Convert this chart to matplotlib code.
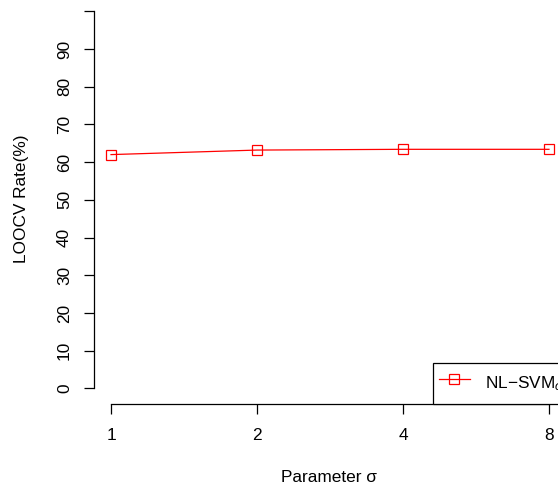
import matplotlib
matplotlib.use("Agg")
import matplotlib.pyplot as plt

# data
sigma_labels = ["1", "2", "4", "8"]
loocv_rate = [62.0, 63.2, 63.4, 63.4]
y_ticks = [0, 10, 20, 30, 40, 50, 60, 70, 80, 90, 100]
y_tick_labels = ["0", "10", "20", "30", "40", "50", "60", "70", "80", "90", ""]
series_name = "NL\u2212SVM$_\\sigma$"

plt.rcParams['font.family'] = ['Liberation Sans', 'DejaVu Sans']
plt.rcParams['mathtext.fontset'] = 'custom'
plt.rcParams['mathtext.rm'] = 'Liberation Sans'
plt.rcParams['mathtext.it'] = 'Liberation Sans:italic'
FS = 12.4

W, H = 558, 488
fig = plt.figure(figsize=(W / 100, H / 100), dpi=100)

# plot region in pixels (R style, runs a bit past the right/top edge)
left, right, bottom, top = 93.5, 566.5, 403.5, -3.8
ax = fig.add_axes([left / W, 1 - bottom / H, (right - left) / W, (bottom - top) / H])

xpos = list(range(1, len(sigma_labels) + 1))
ax.plot(xpos, loocv_rate, color='red', linewidth=0.9, marker='s',
        markersize=7, markerfacecolor='none', markeredgecolor='red',
        markeredgewidth=0.9, label=series_name)

ax.set_xlim(0.88, 4.12)
ax.set_ylim(-4, 104)

for s in ['top', 'right']:
    ax.spines[s].set_visible(False)
ax.spines['left'].set_bounds(0, 100)
ax.spines['bottom'].set_bounds(1, 4)
for s in ['left', 'bottom']:
    ax.spines[s].set_linewidth(0.9)

ax.set_xticks(xpos)
ax.set_xticklabels(sigma_labels, fontsize=FS)
ax.set_yticks(y_ticks)
ax.set_yticklabels(y_tick_labels, fontsize=FS, rotation=90, va='center')
ax.tick_params(axis='both', direction='out', length=7, width=0.9)
ax.tick_params(axis='x', pad=11)
ax.tick_params(axis='y', pad=8.5)

ax.set_xlabel("Parameter \u03c3", fontsize=FS)
ax.set_ylabel("LOOCV Rate(%)", fontsize=FS)
ax.xaxis.set_label_coords(329 / W, 1 - 477 / H, transform=fig.transFigure)
ax.yaxis.set_label_coords(22 / W, 1 - 199 / H, transform=fig.transFigure)
ax.xaxis.label.set_va('center')
ax.yaxis.label.set_va('center')

# legend sits bottom-right of the plot region, clipped by the image edge like the original
leg = ax.legend(loc='lower right', bbox_to_anchor=(1 + 4 / 473, 0), borderaxespad=0,
                fontsize=FS, numpoints=1, fancybox=False, framealpha=1,
                edgecolor='black', handlelength=1.8, handleheight=2.2,
                handletextpad=0.9, borderpad=0.35)
leg.get_frame().set_linewidth(0.9)

fig.savefig("out.png", dpi=100)
